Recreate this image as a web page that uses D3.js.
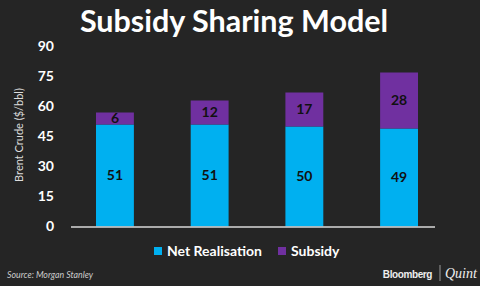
<html lang="en">
<head>
  <meta charset="UTF-8">
  <title>Subsidy Sharing Model</title>
  <script src="https://d3js.org/d3.v7.min.js"></script>
  <style>
    body { margin: 0; background: #252525; }
    svg { display: block; font-family: Lato, sans-serif; }
  </style>
</head>
<body>
  <svg id="chart"></svg>
  <script>
    const categories = ["A", "B", "C", "D"];
    const netRealisation = [51, 51, 50, 49];
    const subsidy = [6, 12, 17, 28];
    const yTicks = [0, 15, 30, 45, 60, 75, 90];

    const width = 480;
    const height = 286;
    const blue = "#00b0f0";
    const purple = "#7030a0";

    const svg = d3.select("#chart")
      .attr("width", width)
      .attr("height", height);

    svg.append("rect").attr("width", width).attr("height", height).attr("fill", "#252525");

    // title
    svg.append("text")
      .attr("x", 234)
      .attr("y", 32)
      .attr("text-anchor", "middle")
      .attr("fill", "#fff")
      .attr("font-size", 30.5)
      .attr("font-weight", 700)
      .text("Subsidy Sharing Model");

    const x = d3.scaleBand()
      .domain(categories)
      .range([71, 443])
      .paddingInner(0.6)
      .paddingOuter(0.264);

    const y = d3.scaleLinear()
      .domain([0, 90])
      .range([226.5, 46.5]);

    // y axis labels
    const yAxis = d3.axisLeft(y).tickValues(yTicks).tickSize(0).tickPadding(0);
    const yg = svg.append("g")
      .attr("transform", "translate(54,0)")
      .call(yAxis);
    yg.select(".domain").remove();
    yg.selectAll("text")
      .attr("fill", "#fff")
      .attr("font-size", 14)
      .attr("font-weight", 700)
      .attr("font-family", "Lato, sans-serif");

    svg.append("text")
      .attr("transform", "translate(23,135) rotate(-90)")
      .attr("text-anchor", "middle")
      .attr("fill", "#ddd")
      .attr("font-size", 11)
      .text("Brent Crude ($/bbl)");

    const data = categories.map((c, i) => ({ c, net: netRealisation[i], sub: subsidy[i] }));

    const bars = svg.append("g").selectAll("g")
      .data(data)
      .enter()
      .append("g");

    bars.append("rect")
      .attr("x", d => x(d.c))
      .attr("width", x.bandwidth())
      .attr("y", d => y(d.net))
      .attr("height", d => y(0) - y(d.net))
      .attr("fill", blue);

    bars.append("rect")
      .attr("x", d => x(d.c))
      .attr("width", x.bandwidth())
      .attr("y", d => y(d.net + d.sub))
      .attr("height", d => y(d.net) - y(d.net + d.sub))
      .attr("fill", purple);

    bars.append("text")
      .attr("x", d => x(d.c) + x.bandwidth() / 2)
      .attr("y", d => y(d.net / 2))
      .attr("dy", "0.35em")
      .attr("text-anchor", "middle")
      .attr("fill", "#111")
      .attr("font-size", 14)
      .attr("font-weight", 700)
      .text(d => d.net);

    bars.append("text")
      .attr("x", d => x(d.c) + x.bandwidth() / 2)
      .attr("y", d => y(d.net + d.sub / 2))
      .attr("dy", "0.35em")
      .attr("text-anchor", "middle")
      .attr("fill", "#111")
      .attr("font-size", 14)
      .attr("font-weight", 700)
      .text(d => d.sub);

    // baseline
    svg.append("line")
      .attr("x1", 71).attr("x2", 435)
      .attr("y1", y(0) + 0.5).attr("y2", y(0) + 0.5)
      .attr("stroke", "#d9d9d9")
      .attr("stroke-width", 1.5);

    // legend
    const legend = [
      { label: "Net Realisation", color: blue, x: 154 },
      { label: "Subsidy", color: purple, x: 278 }
    ];
    const lg = svg.append("g").selectAll("g").data(legend).enter().append("g");
    lg.append("rect")
      .attr("x", d => d.x).attr("y", 247)
      .attr("width", 8).attr("height", 8)
      .attr("fill", d => d.color);
    lg.append("text")
      .attr("x", d => d.x + 13).attr("y", 256)
      .attr("fill", "#fff")
      .attr("font-size", 14)
      .attr("font-weight", 700)
      .text(d => d.label);

    // footer
    svg.append("text")
      .attr("x", 7).attr("y", 278)
      .attr("fill", "#ccc")
      .attr("font-size", 8.8)
      .attr("font-style", "italic")
      .text("Source: Morgan Stanley");

    svg.append("text")
      .attr("x", 432).attr("y", 278)
      .attr("text-anchor", "end")
      .attr("fill", "#eee")
      .attr("font-family", "Liberation Sans, sans-serif")
      .attr("font-size", 10)
      .attr("font-weight", 700)
      .attr("letter-spacing", -0.4)
      .text("Bloomberg");

    svg.append("line")
      .attr("x1", 440).attr("x2", 440)
      .attr("y1", 265).attr("y2", 281)
      .attr("stroke", "#999");

    svg.append("text")
      .attr("x", 445).attr("y", 278)
      .attr("fill", "#eee")
      .attr("font-family", "Liberation Serif, serif")
      .attr("font-size", 14)
      .attr("font-style", "italic")
      .text("Quint");
  </script>
</body>
</html>
